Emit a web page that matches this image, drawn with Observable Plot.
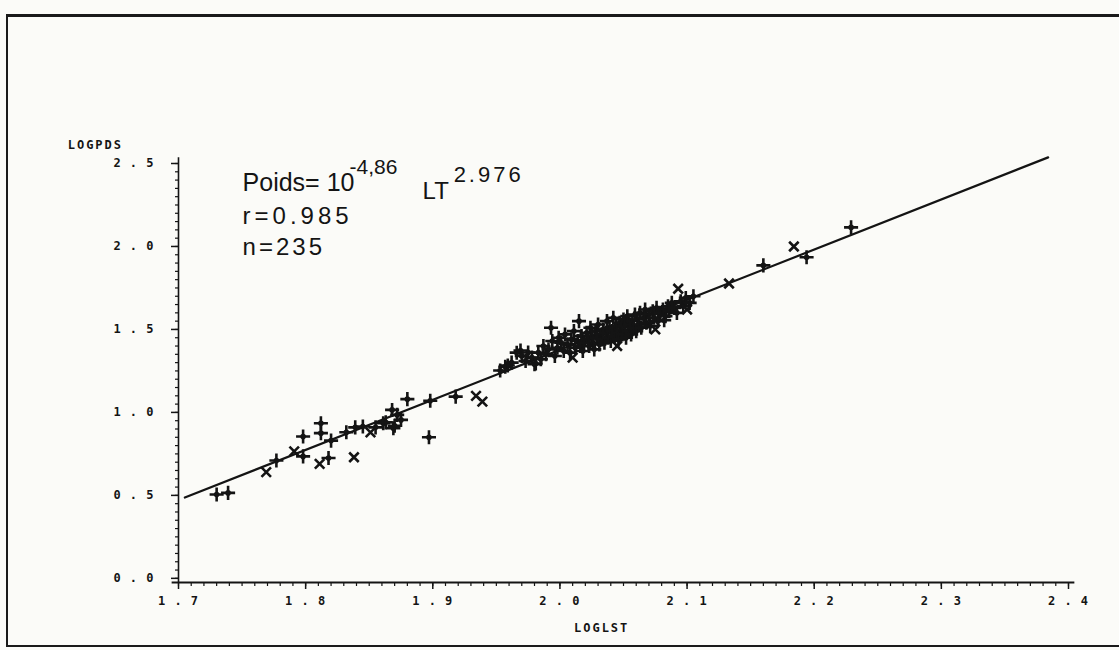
<!DOCTYPE html>
<html><head><meta charset="utf-8">
<script src="https://cdn.jsdelivr.net/npm/d3@7"></script>
<script src="https://cdn.jsdelivr.net/npm/@observablehq/plot@0.6"></script>
<style>
html,body{margin:0;padding:0;background:#fbfbf8;}
#wrap{position:relative;width:1119px;height:650px;overflow:hidden;}
#border{position:absolute;left:6px;top:14px;width:1120px;height:633px;border-top:3px solid #1a1a1a;border-left:2px solid #1a1a1a;border-bottom:2px solid #1a1a1a;box-sizing:border-box;}
#chart{position:absolute;left:0;top:0;}
</style></head><body><div id="wrap"><div id="border"></div><div id="chart"></div></div>
<script>
// Axis ticks
const xTicks = [1.7, 1.8, 1.9, 2.0, 2.1, 2.2, 2.3, 2.4];
const yTicks = [0.0, 0.5, 1.0, 1.5, 2.0, 2.5];
const xLabel = "LOGLST";
const yLabel = "LOGPDS";

// Fitted line endpoints (LOGLST, LOGPDS)
const lineX = [1.705, 2.384];
const lineY = [0.487, 2.537];

// Observations drawn with "+" marker
const plusX = [1.730,1.739,1.777,1.798,1.798,1.812,1.812,1.818,1.820,1.832,1.839,1.845,1.855,1.861,1.869,1.868,1.872,1.863,1.870,1.875,1.880,1.897,1.898,1.918,1.957,1.981,
 1.953,1.959,1.962,1.966,1.969,1.970,1.973,1.975,1.978,1.980,1.983,1.985,1.987,1.989,1.991,1.993,1.994,1.996,1.998,1.999,
 2.001,2.003,2.004,2.006,2.008,2.009,2.011,2.012,2.014,2.015,2.016,2.017,2.018,2.019,
 2.021,2.022,2.023,2.024,2.025,2.026,2.027,2.028,2.029,2.030,2.031,2.032,2.033,2.034,2.035,2.036,2.037,2.038,2.039,2.040,
 2.041,2.042,2.043,2.044,2.045,2.046,2.047,2.048,2.049,2.050,2.051,2.052,2.053,2.054,2.055,2.056,2.057,2.058,2.059,2.060,
 2.061,2.062,2.063,2.064,2.066,2.067,2.068,2.070,2.071,2.073,2.074,2.076,2.077,2.079,
 2.081,2.082,2.083,2.085,2.086,2.088,2.090,2.092,2.095,2.097,2.099,2.102,2.105,
 2.160,2.194,2.229];
const plusY = [0.505,0.515,0.710,0.735,0.855,0.935,0.875,0.725,0.830,0.880,0.910,0.915,0.910,0.935,0.905,1.015,0.985,0.940,0.920,0.955,1.080,0.850,1.070,1.095,1.275,1.295,
 1.253,1.283,1.300,1.360,1.373,1.340,1.310,1.361,1.330,1.290,1.360,1.320,1.400,1.350,1.380,1.510,1.430,1.340,1.390,1.450,
 1.420,1.370,1.470,1.410,1.360,1.440,1.490,1.390,1.430,1.550,1.400,1.460,1.370,1.420,
 1.480,1.440,1.400,1.510,1.460,1.420,1.380,1.490,1.450,1.530,1.410,1.470,1.440,1.500,1.420,1.480,1.550,1.450,1.510,1.430,
 1.490,1.570,1.460,1.520,1.480,1.440,1.540,1.500,1.470,1.560,1.520,1.450,1.580,1.490,1.530,1.470,1.550,1.510,1.590,1.490,
 1.560,1.530,1.600,1.510,1.570,1.620,1.540,1.590,1.520,1.610,1.570,1.630,1.550,1.600,
 1.620,1.555,1.580,1.640,1.610,1.660,1.630,1.600,1.670,1.640,1.690,1.660,1.700,
 1.886,1.935,2.115];

// Observations drawn with "x" marker
const crossX = [1.769,1.791,1.811,1.838,1.851,1.934,1.939,2.010,2.045,2.075,2.093,2.100,2.133,2.184];
const crossY = [0.640,0.765,0.690,0.730,0.880,1.100,1.065,1.330,1.400,1.500,1.745,1.620,1.777,2.000];

const ink = "#141414";
const spaced = d => d.toFixed(1).split("").join(" ");
const xMinor = d3.range(170, 241).map(v => v / 100);
const yMinor = d3.range(0, 51).map(v => v / 20);
const tickFont = {fontFamily: "DejaVu Sans Mono", fontWeight: "bold", fontSize: 12};
const annFont = {fontFamily: "Liberation Sans", fill: ink, textAnchor: "start"};
const plusData = plusX.map((x, i) => ({x, y: plusY[i]}));

const chart = Plot.plot({
  width: 1119, height: 650,
  marginLeft: 178, marginRight: 51, marginTop: 163, marginBottom: 68,
  x: {domain: [1.7, 2.4]},
  y: {domain: [-0.025, 2.5]},
  style: {background: "transparent", color: ink, overflow: "visible"},
  marks: [
    Plot.axisX({ticks: xMinor, tickSize: 4, tickFormat: () => "", label: null, strokeWidth: 1.2}),
    Plot.axisX({ticks: xTicks, tickSize: 7, tickPadding: 7, tickFormat: spaced, label: null, strokeWidth: 1.5, ...tickFont}),
    Plot.axisY({ticks: yMinor, tickSize: 3, tickFormat: () => "", label: null, strokeWidth: 1.2}),
    Plot.axisY({ticks: yTicks, tickSize: 7, tickPadding: 17, tickFormat: spaced, label: null, strokeWidth: 1.5, ...tickFont}),
    Plot.ruleY([-0.025], {x1: 1.695, x2: 2.405, stroke: ink, strokeWidth: 2}),
    Plot.ruleX([1.7], {y1: -0.025, y2: 2.535, stroke: ink, strokeWidth: 1.6}),
    Plot.line(lineX.map((x, i) => ({x, y: lineY[i]})), {x: "x", y: "y", stroke: ink, strokeWidth: 2.2}),
    Plot.dot(plusData, {x: "x", y: "y", r: 2.8, fill: ink, stroke: "none"}),
    Plot.dot(plusData, {x: "x", y: "y", symbol: "plus", r: 4.6, stroke: ink, strokeWidth: 2.6}),
    Plot.dot(crossX.map((x, i) => ({x, y: crossY[i]})), {x: "x", y: "y", symbol: "times", r: 4.4, stroke: ink, strokeWidth: 2.6}),
    Plot.text([yLabel], {x: 1.6346, y: 2.61, text: d => d, fill: ink, ...tickFont}),
    Plot.text([xLabel], {x: 2.0328, y: -0.302, text: d => d, fill: ink, ...tickFont}),
    Plot.text(["Poids= 10"], {x: 1.7504, y: 2.380, text: d => d, fontSize: 25, ...annFont}),
    Plot.text(["-4,86"], {x: 1.8345, y: 2.48, text: d => d, fontSize: 21, ...annFont}),
    Plot.text(["LT"], {x: 1.892, y: 2.33, text: d => d, fontSize: 24, ...annFont}),
    Plot.text(["2.976"], {x: 1.9164, y: 2.43, text: d => d, fontSize: 22, ...annFont}),
    Plot.text(["r=0.985"], {x: 1.7504, y: 2.181, text: d => d, fontSize: 24, ...annFont}),
    Plot.text(["n=235"], {x: 1.7504, y: 1.994, text: d => d, fontSize: 24, ...annFont})
  ]
});
chart.querySelectorAll("g[aria-label='text'] text").forEach(t => {
  const s = t.textContent;
  if (s === "r=0.985") t.setAttribute("letter-spacing", "4");
  if (s === "n=235") t.setAttribute("letter-spacing", "3");
  if (s === "2.976") t.setAttribute("letter-spacing", "3");
  if (s === "LOGPDS" || s === "LOGLST") t.setAttribute("letter-spacing", "2");
});
chart.querySelectorAll("g[aria-label='x-axis tick label'] text, g[aria-label='y-axis tick label'] text").forEach(t => {
  t.setAttribute("letter-spacing", "1");
});
document.getElementById("chart").appendChild(chart);
</script>
</body></html>
